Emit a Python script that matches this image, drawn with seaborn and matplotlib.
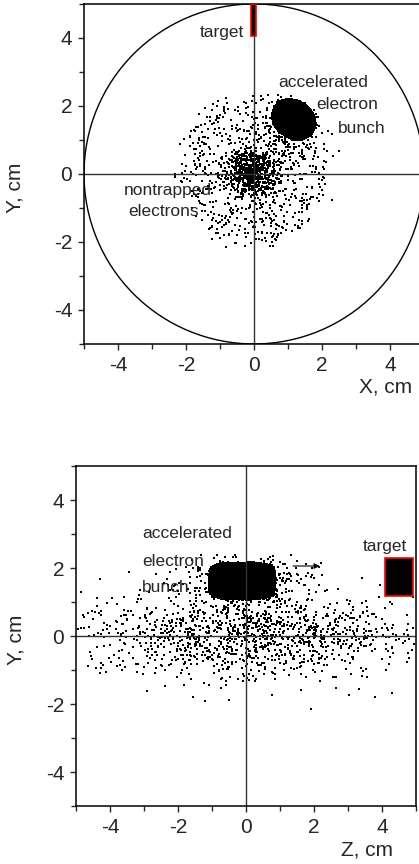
import numpy as np
import pandas as pd
import seaborn as sns
from matplotlib import pyplot as plt
from matplotlib.patches import Rectangle, Circle

sns.set_style("white")
plt.rcParams['font.family'] = ['Liberation Sans', 'DejaVu Sans']
plt.rcParams['axes.unicode_minus'] = False

# particle groups: centre, spread, count
# X-Y view
xy_names = ['bunch', 'bunch fringe', 'core', 'halo']
xy_cx = [1.17, 1.15, -0.05, 0.0]
xy_cy = [1.60, 1.50, 0.05, 0.15]
xy_sx = [0.68, 0.45, 0.38, 1.15]
xy_sy = [0.56, 0.45, 0.36, 1.15]
xy_n = [4000, 250, 650, 700]
xy_tilt = -35  # degrees, bunch orientation

# Z-Y view
zy_names = ['bunch', 'fringe', 'nontrapped']
zy_cz = [-0.12, -0.05, 0.0]
zy_cy = [1.62, 1.60, 0.0]
zy_sz = [0.98, 0.85, 2.4]
zy_sy = [0.55, 0.38, 0.65]
zy_n = [5000, 450, 1300]

target_xy = [-0.10, 4.05, 0.17, 0.95]   # x, y, w, h
target_zy = [4.10, 1.17, 0.80, 1.12]

rng = np.random.default_rng(7)


def blob(n, cx, cy, ax_, ay_, tilt=0.0, p=2.0):
    # points spread evenly inside a (super)ellipse
    u = rng.uniform(-1, 1, 4 * n)
    v = rng.uniform(-1, 1, 4 * n)
    keep = (np.abs(u) ** p + np.abs(v) ** p) < 1
    u, v = u[keep][:n] * ax_, v[keep][:n] * ay_
    a = np.deg2rad(tilt)
    x = cx + u * np.cos(a) - v * np.sin(a)
    y = cy + u * np.sin(a) + v * np.cos(a)
    return x, y


# build the clouds
xs, ys = [], []
bx, by = blob(xy_n[0], xy_cx[0], xy_cy[0], xy_sx[0], xy_sy[0], xy_tilt)
xs.append(bx); ys.append(by)
for i in (1, 2):
    xs.append(rng.normal(xy_cx[i], xy_sx[i], xy_n[i]))
    ys.append(rng.normal(xy_cy[i], xy_sy[i], xy_n[i]))
hx, hy = blob(xy_n[3], xy_cx[3], xy_cy[3], 2.2, 2.2)
hx = hx + rng.normal(0, 0.15, len(hx)); hy = hy + rng.normal(0, 0.15, len(hy))
xs.append(hx); ys.append(hy)
df_xy = pd.DataFrame({'x': np.concatenate(xs), 'y': np.concatenate(ys)})
df_xy = df_xy[(df_xy.x ** 2 + df_xy.y ** 2) < 2.6 ** 2]

zs, ys2 = [], []
bz, by2 = blob(zy_n[0], zy_cz[0], zy_cy[0], zy_sz[0], zy_sy[0], 0, p=4)
zs.append(bz); ys2.append(by2)
for i in (1, 2):
    zs.append(rng.normal(zy_cz[i], zy_sz[i], zy_n[i]))
    ys2.append(rng.normal(zy_cy[i], zy_sy[i], zy_n[i]))
df_zy = pd.DataFrame({'z': np.concatenate(zs), 'y': np.concatenate(ys2)})
df_zy = df_zy[(df_zy.z.abs() < 4.95) & (df_zy.y > -2.25) & (df_zy.y < 2.4)]

fig = plt.figure(figsize=(4.19, 8.64), dpi=100)
ax1 = fig.add_axes([0.2005, 0.6019, 0.8115, 0.3935])
ax2 = fig.add_axes([0.1814, 0.0671, 0.8115, 0.3935])

# top: X-Y
ax1.axhline(0, color='#333333', lw=1)
ax1.axvline(0, color='#333333', lw=1)
ax1.add_patch(Circle((0, 0), 5, fill=False, color='black', lw=1))
sns.scatterplot(data=df_xy, x='x', y='y', s=3, color='black', marker='s',
                linewidth=0, ax=ax1)
ax1.add_patch(Rectangle(target_xy[:2], target_xy[2], target_xy[3],
                        facecolor='black', edgecolor='red', lw=1.2, zorder=5))
fs = 12.5
ax1.text(-0.3, 4.15, 'target', ha='right', va='center', fontsize=fs)
ax1.text(2.03, 2.7, 'accelerated', ha='center', va='center', fontsize=fs)
ax1.text(2.74, 2.03, 'electron', ha='center', va='center', fontsize=fs)
ax1.text(3.18, 1.35, 'bunch', ha='center', va='center', fontsize=fs)
ax1.text(-2.54, -0.5, 'nontrapped', ha='center', va='center', fontsize=fs)
ax1.text(-2.65, -1.1, 'electrons', ha='center', va='center', fontsize=fs)
ax1.text(0.965, -0.126, 'X, cm', transform=ax1.transAxes, ha='right',
         va='center', fontsize=15)
ax1.spines['right'].set_visible(False)

# bottom: Z-Y
ax2.axhline(0, color='#333333', lw=1)
ax2.axvline(0, color='#333333', lw=1)
sns.scatterplot(data=df_zy, x='z', y='y', s=3, color='black', marker='s',
                linewidth=0, ax=ax2)
ax2.add_patch(Rectangle(target_zy[:2], target_zy[2], target_zy[3],
                        facecolor='black', edgecolor='red', lw=1.2, zorder=5))
ax2.annotate('', xy=(2.25, 2.06), xytext=(1.3, 2.06),
             arrowprops=dict(arrowstyle='-|>', color='black', lw=0.8,
                             mutation_scale=8))
ax2.text(-3.06, 3.03, 'accelerated', ha='left', va='center', fontsize=fs)
ax2.text(-3.06, 2.18, 'electron', ha='left', va='center', fontsize=fs)
ax2.text(-3.06, 1.44, 'bunch', ha='left', va='center', fontsize=fs)
ax2.text(4.08, 2.62, 'target', ha='center', va='center', fontsize=fs)
ax2.text(0.932, -0.129, 'Z, cm', transform=ax2.transAxes, ha='right',
         va='center', fontsize=15)

for ax in (ax1, ax2):
    ax.set_xlim(-5, 5)
    ax.set_ylim(-5, 5)
    ax.set_xticks([-4, -2, 0, 2, 4])
    ax.set_yticks([-4, -2, 0, 2, 4])
    ax.set_xticks(np.arange(-5, 6, 1), minor=True)
    ax.set_yticks(np.arange(-5, 6, 1), minor=True)
    ax.tick_params(which='major', direction='out', length=4.5, width=1,
                   labelsize=15, left=True, bottom=True, pad=4)
    ax.tick_params(which='minor', direction='out', length=3.5, width=1,
                   left=True, bottom=True)
    ax.set_xlabel('')
    ax.set_ylabel('Y, cm', fontsize=15)
    for sp in ax.spines.values():
        sp.set_color('black')
        sp.set_linewidth(1.1)

ax1.yaxis.set_label_coords(-0.174, 0.46)
ax2.yaxis.set_label_coords(-0.15, 0.49)

fig.savefig('out.png', dpi=100)
